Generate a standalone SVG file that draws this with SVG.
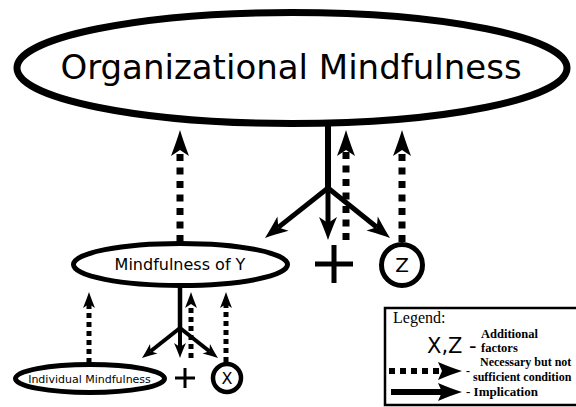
<svg xmlns="http://www.w3.org/2000/svg" width="576" height="407" viewBox="0 0 576 407">
<style>
.node{fill:#fff;stroke:#000}
.t{font-family:"DejaVu Sans",Verdana,sans-serif;fill:#000;text-anchor:middle}
.sol{stroke:#000;fill:none;stroke-linecap:butt}
.dsh{stroke:#000;fill:none;stroke-linecap:butt}
.lg{font-family:"Liberation Serif","Times New Roman",serif;fill:#000}
</style>
<defs>
<marker id="hd" markerUnits="userSpaceOnUse" orient="auto" overflow="visible" refX="0" refY="0" markerWidth="1" markerHeight="1">
<path d="M20,0 Q10,-3 -6,-9 L0,0 L-6,9 Q10,3 20,0 Z" fill="#000"/>
</marker>
<marker id="hd2" markerUnits="userSpaceOnUse" orient="auto" overflow="visible" refX="0" refY="0" markerWidth="1" markerHeight="1">
<path d="M12,0 Q6,-2 -4,-6 L0,0 L-4,6 Q6,2 12,0 Z" fill="#000"/>
</marker>
<marker id="hs" markerUnits="userSpaceOnUse" orient="auto" overflow="visible" refX="0" refY="0" markerWidth="1" markerHeight="1">
<path d="M17,0 Q8,-3 -6,-9 L0,0 L-6,9 Q8,3 17,0 Z" fill="#000"/>
</marker>
<marker id="hs2" markerUnits="userSpaceOnUse" orient="auto" overflow="visible" refX="0" refY="0" markerWidth="1" markerHeight="1">
<path d="M11,0 Q5,-2 -4,-6 L0,0 L-4,6 Q5,2 11,0 Z" fill="#000"/>
</marker>
<marker id="hl" markerUnits="userSpaceOnUse" orient="auto" overflow="visible" refX="0" refY="0" markerWidth="1" markerHeight="1">
<path d="M20,0 Q10,-3 -4,-9 L0,0 L-4,9 Q10,3 20,0 Z" fill="#000"/>
</marker>
</defs>

<g id="connectors">
<path class="sol" d="M328,124 L328,188" stroke-width="6"/>
<path class="sol" d="M328,188 L278.3,227.4" stroke-width="5" marker-end="url(#hs)"/>
<path class="sol" d="M328,188 L328,223" stroke-width="5" marker-end="url(#hs)"/>
<path class="sol" d="M328,188 L376.8,227.3" stroke-width="5" marker-end="url(#hs)"/>
<path class="dsh" d="M180,242 L180,150" stroke-width="7" stroke-dasharray="7 6.5" marker-end="url(#hd)"/>
<path class="dsh" d="M346,240 L346,150" stroke-width="7" stroke-dasharray="7 6.5" marker-end="url(#hd)"/>
<path class="dsh" d="M402,242 L402,150" stroke-width="7" stroke-dasharray="7 6.5" marker-end="url(#hd)"/>
<path class="sol" d="M180,286 L180,328" stroke-width="4.5"/>
<path class="sol" d="M180,328 L150.6,351.2" stroke-width="4" marker-end="url(#hs2)"/>
<path class="sol" d="M180,328 L180,347" stroke-width="4" marker-end="url(#hs2)"/>
<path class="sol" d="M180,328 L209.4,351.2" stroke-width="4" marker-end="url(#hs2)"/>
<path class="dsh" d="M89,363 L89,304" stroke-width="5" stroke-dasharray="5 4" marker-end="url(#hd2)"/>
<path class="dsh" d="M191,358 L191,304" stroke-width="5" stroke-dasharray="5 4" marker-end="url(#hd2)"/>
<path class="dsh" d="M226,362 L226,304" stroke-width="5" stroke-dasharray="5 4" marker-end="url(#hd2)"/>
</g>

<g id="organizational-mindfulness">
<ellipse class="node" cx="292" cy="68" rx="275" ry="55.5" stroke-width="7"/>
<text class="t" x="291" y="79" font-size="34">Organizational Mindfulness</text>
</g>

<g id="mindfulness-of-y">
<ellipse class="node" cx="180.5" cy="264.5" rx="107" ry="21" stroke-width="5"/>
<text class="t" x="180" y="270" font-size="16">Mindfulness of Y</text>
</g>

<g id="plus-upper">
<path d="M315,264 L353,264 M334,245 L334,283" stroke="#000" stroke-width="5"/>
</g>

<g id="z">
<circle class="node" cx="402" cy="265" r="20.5" stroke-width="5"/>
<text class="t" x="402" y="272" font-size="20">Z</text>
</g>

<g id="individual-mindfulness">
<ellipse class="node" cx="90" cy="378.5" rx="74.5" ry="14" stroke-width="5"/>
<text class="t" x="89.5" y="382.5" font-size="11">Individual Mindfulness</text>
</g>

<g id="plus-lower">
<path d="M175,378 L195,378 M185,368 L185,388" stroke="#000" stroke-width="3"/>
</g>

<g id="x">
<circle class="node" cx="227" cy="378" r="14" stroke-width="4.5"/>
<text class="t" x="227" y="384" font-size="16">X</text>
</g>

<g id="legend">
<rect x="385" y="308" width="200" height="97" fill="#fff" stroke="#000" stroke-width="2.5"/>
<text class="lg" x="393" y="323" font-size="16">Legend:</text>
<text x="427" y="353" font-size="21" font-family="DejaVu Sans, sans-serif">X,Z -</text>
<text class="lg" x="481" y="338" font-size="12.5" font-weight="bold">Additional</text>
<text class="lg" x="481" y="352" font-size="12.5" font-weight="bold">factors</text>
<path class="dsh" d="M389,371 L442,371" stroke-width="6" stroke-dasharray="6 5" marker-end="url(#hl)"/>
<text class="lg" x="466" y="375" font-size="12" font-weight="bold">-</text>
<text class="lg" x="480" y="366" font-size="12" font-weight="bold">Necessary but not</text>
<text class="lg" x="473" y="381" font-size="12" font-weight="bold">sufficient condition</text>
<path class="sol" d="M391,392 L442,392" stroke-width="6" marker-end="url(#hl)"/>
<text class="lg" x="466" y="396" font-size="13" font-weight="bold">- Implication</text>
</g>
</svg>
